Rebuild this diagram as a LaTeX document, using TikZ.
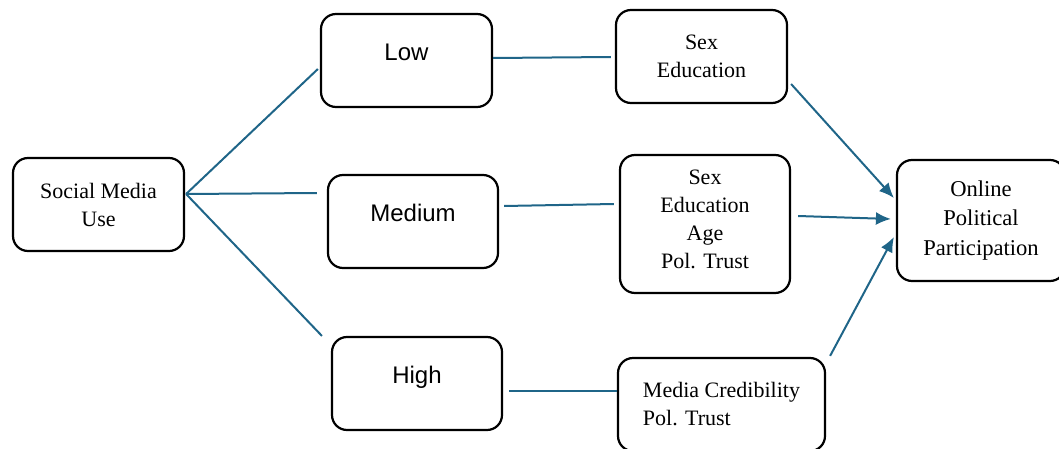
\documentclass[tikz,border=0pt]{standalone}
\usepackage{fontspec}
\setmainfont{Liberation Serif}
\newfontfamily\levelfont{Liberation Sans}
\usetikzlibrary{positioning,shapes,arrows.meta}
\definecolor{linkblue}{RGB}{31,101,136}

\begin{document}
\begin{tikzpicture}[x=0.5pt, y=-0.5pt,
    box/.style={draw, line width=1.1pt, rounded corners=7.5pt, align=center,
      inner sep=0pt, font=\fontsize{11}{14}\selectfont},
    level/.style={box, font=\levelfont\fontsize{12}{14}\selectfont,
      text height=8pt, text depth=8pt, minimum height=46.5pt},
    link/.style={draw=linkblue, line width=1pt},
    arr/.style={link, -{Latex[length=7.5pt,width=6.5pt]}}]
  \useasboundingbox (0,0) rectangle (1059,449);

  \node[box, minimum width=85.5pt, minimum height=46.5pt] (smu) at (98.5,204.5) {Social Media\\Use};
  \node[level, minimum width=85.5pt] (low)  at (406.5,60.5) {Low};
  \node[level, minimum width=85pt]   (med)  at (413,221.5)  {Medium};
  \node[level, minimum width=85pt]   (high) at (417,383.5)  {High};
  \node[box, minimum width=85.5pt, minimum height=46.5pt] (ctlow) at (701.5,56.5) {Sex\\Education};
  \node[box, minimum width=85pt, minimum height=69pt, text depth=5pt] (ctmed) at (705,224) {Sex\\Education\\Age\\Pol. Trust};
  \node[box, align=left, minimum width=103.5pt, minimum height=46.5pt] (cthigh) at (721.5,404.5) {Media Credibility\\Pol. Trust};
  \node[box, minimum width=84pt, minimum height=60.5pt,
    font=\fontsize{11.3}{14.8}\selectfont] (opp) at (981,220.5) {Online\\Political\\Participation};

  % branches
  \draw[link] ([shift={(1,-10.5)}]smu.east) -- ([shift={(-2,8.5)}]low.west);
  \draw[link] ([shift={(1,-10.5)}]smu.east) -- ([shift={(-10,-28.5)}]med.west);
  \draw[link] ([shift={(1,-10.5)}]smu.east) -- ([shift={(-9,0)}]high.north west);
  \draw[link] ([shift={(0,-2.5)}]low.east) -- ([shift={(-4,0.5)}]ctlow.west);
  \draw[link] ([shift={(5,-15.5)}]med.east) -- ([shift={(-5,-20)}]ctmed.west);
  \draw[link] ([shift={(6,7.5)}]high.east) -- ([shift={(0,-13.5)}]cthigh.west);

  % outcome
  \draw[arr] ([shift={(3,27.5)}]ctlow.east) -- ([shift={(-2,-22.5)}]opp.west);
  \draw[arr] ([shift={(7,-8)}]ctmed.east) -- ([shift={(-5,-1.5)}]opp.west);
  \draw[arr] ([shift={(4,-1)}]cthigh.north east) -- ([shift={(-2,16.5)}]opp.west);
\end{tikzpicture}
\end{document}
